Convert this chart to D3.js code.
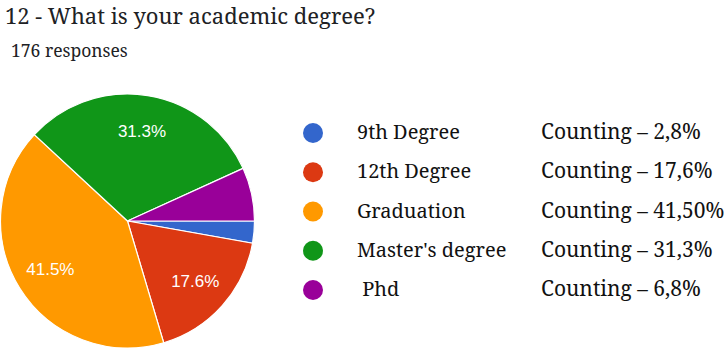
<!DOCTYPE html>
<html>
<head>
<meta charset="utf-8">
<script src="https://cdn.jsdelivr.net/npm/d3@7"></script>
<style>
  body { margin: 0; background: #fff; }
</style>
</head>
<body>
<svg class="vis" width="724" height="352"></svg>
<script>
// Pie chart - academic degree

var categories = ["9th Degree", "12th Degree", "Graduation", "Master's degree", " Phd"];
var percents = [2.8, 17.6, 41.5, 31.3, 6.8];
var legendTexts = ["Counting \u2013 2,8%", "Counting \u2013 17,6%", "Counting \u2013 41,50%", "Counting \u2013 31,3%", "Counting \u2013 6,8%"];
var colors = ["#3366cc", "#dc3912", "#ff9900", "#109618", "#990099"];

var serif = "'Noto Serif', 'DejaVu Serif', serif";

var svg = d3.select(".vis");

svg.append("text")
    .attr("x", 5)
    .attr("y", 24)
    .text("12 - What is your academic degree?")
    .style("font-family", serif)
    .style("font-size", "22px")
    .attr("fill", "#202124");

svg.append("text")
    .attr("x", 11)
    .attr("y", 57)
    .text("176 responses")
    .style("font-family", serif)
    .style("font-size", "17.5px")
    .attr("fill", "#202124");

var data = categories.map(function (c, i) {
    return { name: c, value: percents[i], label: legendTexts[i] };
});

var color = d3.scaleOrdinal()
    .domain(categories)
    .range(colors);

// start at 3 o'clock, clockwise, keep order
var pie = d3.pie()
    .sort(null)
    .value(function (d) { return d.value; })
    .startAngle(Math.PI / 2)
    .endAngle(Math.PI / 2 + 2 * Math.PI);

var radius = 127;

var arc = d3.arc()
    .innerRadius(0)
    .outerRadius(radius);

var labelArc = d3.arc()
    .innerRadius(radius * 0.715)
    .outerRadius(radius * 0.715);

var g = svg.append("g")
    .attr("transform", "translate(127.5, 221)");

g.selectAll(".slice")
    .data(pie(data))
    .enter().append("path")
    .attr("class", "slice")
    .attr("d", arc)
    .attr("fill", function (d) { return color(d.data.name); })
    .attr("stroke", "#fff")
    .attr("stroke-width", 1.2);

g.selectAll(".pct")
    .data(pie(data).filter(function (d) { return d.data.value > 10; }))
    .enter().append("text")
    .attr("class", "pct")
    .attr("transform", function (d) { return "translate(" + labelArc.centroid(d) + ")"; })
    .attr("dy", "0.35em")
    .attr("text-anchor", "middle")
    .text(function (d) { return d.data.value.toFixed(1) + "%"; })
    .style("font-family", "'Liberation Sans', Arial, sans-serif")
    .style("font-size", "17px")
    .attr("fill", "#fff");

// Legende
var legend = svg.append("g")
    .attr("class", "legend");

var ly = d3.scalePoint()
    .domain(categories)
    .range([133, 290]);

legend.selectAll("circle")
    .data(data).enter()
    .append("circle")
    .attr("cx", 313)
    .attr("cy", function (d) { return ly(d.name); })
    .attr("r", 10)
    .attr("fill", function (d) { return color(d.name); });

legend.selectAll(".name")
    .data(data).enter()
    .append("text")
    .attr("class", "name")
    .attr("x", 357)
    .attr("y", function (d) { return ly(d.name) + 6; })
    .style("white-space", "pre")
    .text(function (d) { return d.name; })
    .style("font-family", serif)
    .style("font-size", "20px")
    .attr("fill", "#111");

legend.selectAll(".count")
    .data(data).enter()
    .append("text")
    .attr("class", "count")
    .attr("x", 541)
    .attr("y", function (d) { return ly(d.name) + 6; })
    .text(function (d) { return d.label; })
    .style("font-family", serif)
    .style("font-size", "21px")
    .attr("fill", "#111");
</script>
</body>
</html>
